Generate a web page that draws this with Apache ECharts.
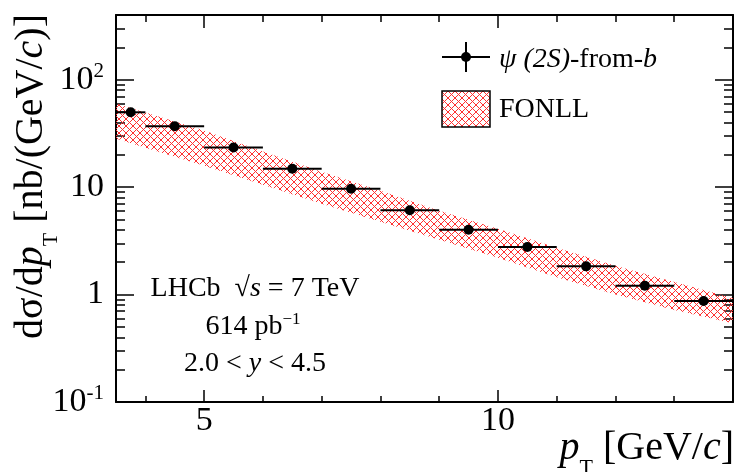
<!DOCTYPE html>
<html>
<head>
<meta charset="utf-8">
<script src="https://cdn.jsdelivr.net/npm/echarts@6/dist/echarts.min.js"></script>
<style>
html, body { margin: 0; padding: 0; background: #fff; }
#main { width: 748px; height: 472px; }
</style>
</head>
<body>
<div id="main"></div>
<script>
// psi(2S)-from-b cross-section, pT bins [GeV/c]
const binLow = [3.5, 4, 5, 6, 7, 8, 9, 10, 11, 12, 13]
const binHigh = [4, 5, 6, 7, 8, 9, 10, 11, 12, 13, 14]
const binCenter = [3.75, 4.5, 5.5, 6.5, 7.5, 8.5, 9.5, 10.5, 11.5, 12.5, 13.5]
const xsec = [49.7, 36.8, 23.4, 14.8, 9.67, 6.1, 4.01, 2.77, 1.83, 1.21, 0.87]
const xsecErr = [3.0, 2.4, 1.5, 0.95, 0.62, 0.4, 0.27, 0.19, 0.13, 0.09, 0.07]

// FONLL prediction band
const fonllPt = [3.5, 4, 5, 6, 7, 8, 9, 10, 11, 12, 13, 14]
const fonllHigh = [59.9, 49.4, 33.6, 21.4, 13.9, 9.25, 6.02, 4.09, 2.72, 1.85, 1.31, 0.93]
const fonllLow = [28.3, 23.3, 15.8, 10.5, 7.0, 4.76, 3.23, 2.2, 1.45, 1.0, 0.72, 0.54]

// ticks
const xMajorTicks = [5, 10]
const xMinorTicks = [4, 6, 7, 8, 9, 11, 12, 13]
const yMajorTicks = [0.1, 1, 10, 100]
const yMinorTicks = [0.2, 0.3, 0.4, 0.5, 0.6, 0.7, 0.8, 0.9,
  2, 3, 4, 5, 6, 7, 8, 9, 20, 30, 40, 50, 60, 70, 80, 90, 200, 300]

const FONT = "'Liberation Serif', 'DejaVu Serif', serif"

// 红色交叉阴影
const hatch = document.createElement('canvas')
hatch.width = 7
hatch.height = 7
const hctx = hatch.getContext('2d')
hctx.strokeStyle = '#ff3030'
hctx.lineWidth = 1
hctx.beginPath()
hctx.moveTo(-1, -1); hctx.lineTo(8, 8)
hctx.moveTo(8, -1); hctx.lineTo(-1, 8)
hctx.stroke()
const hatchFill = { image: hatch, repeat: 'repeat' }

const chart = echarts.init(document.getElementById('main'))

const xBase = { type: 'value', min: 3.5, max: 14, splitLine: { show: false } }
const yBase = { type: 'log', logBase: 10, min: 0.1, max: 400, splitLine: { show: false } }
const frameLine = { show: true, onZero: false, lineStyle: { color: '#000', width: 2 } }
const tickStyle = { color: '#000', width: 1.5 }
const italic = { fontStyle: 'italic', fontFamily: FONT }
// 坐标轴标题: 下标T
const titleRich = {
  i: Object.assign({ fontSize: 40 }, italic),
  sub: { fontSize: 22, fontFamily: FONT, verticalAlign: 'top', padding: [40, 0, 0, 0] }
}

const option = {
  animation: false,
  grid: { left: 116, right: 15, top: 15, bottom: 70, outerBoundsMode: 'none' },
  xAxis: [
    Object.assign({}, xBase, {
      position: 'bottom',
      axisLine: frameLine,
      axisTick: { inside: true, length: 12, customValues: xMajorTicks, lineStyle: tickStyle },
      axisLabel: { customValues: xMajorTicks, fontSize: 34, fontFamily: FONT, color: '#000', margin: 2 }
    }),
    Object.assign({}, xBase, {
      position: 'bottom',
      axisLine: { show: false, onZero: false },
      axisTick: { inside: true, length: 6, customValues: xMinorTicks, lineStyle: tickStyle },
      axisLabel: { show: false }
    }),
    Object.assign({}, xBase, {
      position: 'top',
      axisLine: frameLine,
      axisTick: { inside: true, length: 13, customValues: xMajorTicks, lineStyle: tickStyle },
      axisLabel: { show: false }
    }),
    Object.assign({}, xBase, {
      position: 'top',
      axisLine: { show: false, onZero: false },
      axisTick: { inside: true, length: 7, customValues: xMinorTicks, lineStyle: tickStyle },
      axisLabel: { show: false }
    })
  ],
  yAxis: [
    Object.assign({}, yBase, {
      position: 'left',
      axisLine: frameLine,
      axisTick: { inside: true, length: 18, customValues: yMajorTicks, lineStyle: tickStyle },
      axisLabel: {
        customValues: yMajorTicks,
        fontSize: 34,
        lineHeight: 38,
        fontFamily: FONT,
        color: '#000',
        margin: 12,
        formatter: v => {
          if (Math.abs(v - 1) < 1e-9) return '1'
          if (Math.abs(v - 10) < 1e-9) return '10'
          return '10{sup|' + Math.round(Math.log10(v)) + '}'
        },
        rich: { sup: { fontSize: 21, verticalAlign: 'top', fontFamily: FONT, color: '#000' } }
      }
    }),
    Object.assign({}, yBase, {
      position: 'left',
      axisLine: { show: false },
      axisTick: { inside: true, length: 9, customValues: yMinorTicks, lineStyle: tickStyle },
      axisLabel: { show: false }
    }),
    Object.assign({}, yBase, {
      position: 'right',
      axisLine: frameLine,
      axisTick: { inside: true, length: 18, customValues: yMajorTicks, lineStyle: tickStyle },
      axisLabel: { show: false }
    }),
    Object.assign({}, yBase, {
      position: 'right',
      axisLine: { show: false },
      axisTick: { inside: true, length: 9, customValues: yMinorTicks, lineStyle: tickStyle },
      axisLabel: { show: false }
    })
  ],
  series: [
    {
      name: 'FONLL',
      type: 'custom',
      xAxisIndex: 0,
      yAxisIndex: 0,
      z: 1,
      silent: true,
      data: fonllPt.map((x, i) => [x, fonllLow[i], fonllHigh[i]]),
      encode: { x: 0, y: [1, 2] },
      renderItem: (params, api) => {
        if (params.dataIndex !== 0) return { type: 'group', children: [] }
        const upper = fonllPt.map((x, i) => api.coord([x, fonllHigh[i]]))
        const lower = fonllPt.map((x, i) => api.coord([x, fonllLow[i]])).reverse()
        return {
          type: 'polygon',
          shape: { points: upper.concat(lower) },
          style: { fill: hatchFill, stroke: null }
        }
      }
    },
    {
      name: 'ψ(2S)-from-b',
      type: 'custom',
      xAxisIndex: 0,
      yAxisIndex: 0,
      z: 3,
      data: binCenter.map((x, i) => [x, xsec[i], binLow[i], binHigh[i], xsec[i] - xsecErr[i], xsec[i] + xsecErr[i]]),
      encode: { x: [0, 2, 3], y: [1, 4, 5] },
      renderItem: (params, api) => {
        const c = api.coord([api.value(0), api.value(1)])
        const l = api.coord([api.value(2), api.value(1)])
        const r = api.coord([api.value(3), api.value(1)])
        const lo = api.coord([api.value(0), api.value(4)])
        const hi = api.coord([api.value(0), api.value(5)])
        return {
          type: 'group',
          children: [
            { type: 'line', shape: { x1: l[0], y1: l[1], x2: r[0], y2: r[1] }, style: { stroke: '#000', lineWidth: 2 } },
            { type: 'line', shape: { x1: lo[0], y1: lo[1], x2: hi[0], y2: hi[1] }, style: { stroke: '#000', lineWidth: 2 } },
            { type: 'circle', shape: { cx: c[0], cy: c[1], r: 5 }, style: { fill: '#000' } }
          ]
        }
      }
    }
  ],
  graphic: [
    // y轴标题
    {
      type: 'text',
      x: 31,
      y: 14,
      rotation: Math.PI / 2,
      style: {
        text: 'dσ/d{i|p}{sub|T} [nb/(GeV/{i|c})]',
        fontSize: 40,
        fontFamily: FONT,
        fill: '#000',
        align: 'right',
        verticalAlign: 'middle',
        rich: titleRich
      }
    },
    // x轴标题
    {
      type: 'text',
      x: 734,
      y: 448,
      style: {
        text: '{i|p}{sub|T} [GeV/{i|c}]',
        fontSize: 40,
        fontFamily: FONT,
        fill: '#000',
        align: 'right',
        verticalAlign: 'middle',
        rich: titleRich
      }
    },
    // 图例
    { type: 'line', shape: { x1: 442, y1: 57, x2: 490, y2: 57 }, style: { stroke: '#000', lineWidth: 2 } },
    { type: 'line', shape: { x1: 466, y1: 42, x2: 466, y2: 72 }, style: { stroke: '#000', lineWidth: 2 } },
    { type: 'circle', shape: { cx: 466, cy: 57, r: 5 }, style: { fill: '#000' } },
    {
      type: 'text',
      x: 499,
      y: 60,
      style: {
        text: '{i|ψ (2S)}-from-{i|b}',
        fontSize: 28,
        fontFamily: FONT,
        fill: '#000',
        align: 'left',
        verticalAlign: 'middle',
        rich: { i: Object.assign({ fontSize: 28 }, italic) }
      }
    },
    { type: 'rect', shape: { x: 442, y: 91, width: 48, height: 36 }, style: { fill: hatchFill, stroke: '#000', lineWidth: 1.5 } },
    {
      type: 'text',
      x: 499,
      y: 110,
      style: { text: 'FONLL', fontSize: 28, fontFamily: FONT, fill: '#000', align: 'left', verticalAlign: 'middle' }
    },
    // 实验信息
    {
      type: 'text',
      x: 255,
      y: 289,
      style: {
        text: 'LHCb  √{i|s} = 7 TeV',
        fontSize: 28,
        fontFamily: FONT,
        fill: '#000',
        align: 'center',
        verticalAlign: 'middle',
        rich: { i: Object.assign({ fontSize: 28 }, italic) }
      }
    },
    {
      type: 'text',
      x: 253,
      y: 327,
      style: {
        text: '614 pb{sup|−1}',
        fontSize: 28,
        lineHeight: 32,
        fontFamily: FONT,
        fill: '#000',
        align: 'center',
        verticalAlign: 'middle',
        rich: { sup: { fontSize: 17, verticalAlign: 'top', fontFamily: FONT } }
      }
    },
    {
      type: 'text',
      x: 255,
      y: 364,
      style: {
        text: '2.0 < {i|y} < 4.5',
        fontSize: 28,
        fontFamily: FONT,
        fill: '#000',
        align: 'center',
        verticalAlign: 'middle',
        rich: { i: Object.assign({ fontSize: 28 }, italic) }
      }
    }
  ]
}

chart.setOption(option)
</script>
</body>
</html>
